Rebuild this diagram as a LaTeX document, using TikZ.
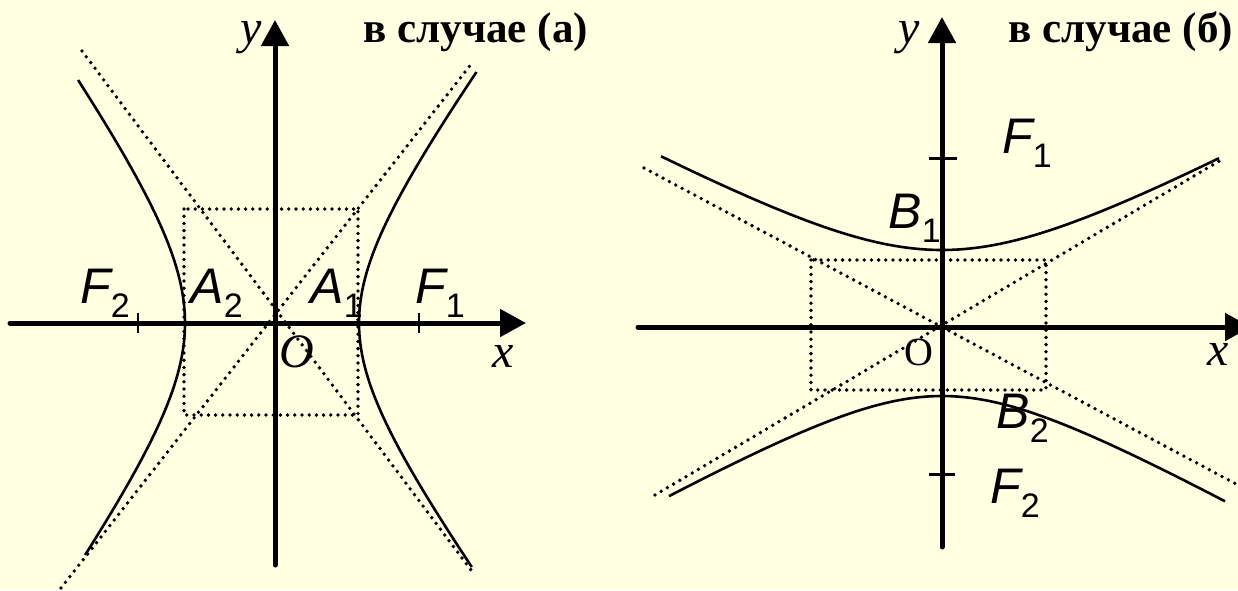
\documentclass[tikz,border=0pt]{standalone}
\usepackage{fontspec}
\setmainfont{Liberation Serif}
\setsansfont{Liberation Sans}
\usetikzlibrary{arrows.meta}
\definecolor{paperyellow}{RGB}{255,255,225}
\newcommand{\flab}[2]{{\fontsize{25}{25}\selectfont\sffamily\itshape #1}{\fontsize{17}{17}\selectfont\sffamily\raisebox{-7pt}{#2}}}
\newcommand{\vlab}[1]{{\fontsize{24}{24}\selectfont\itshape #1}}

\begin{document}
\begin{tikzpicture}[x=0.5pt,y=-0.5pt,>={Triangle[length=13pt,width=13.5pt]},
  lab/.style={anchor=base west,inner sep=0pt},
  axis/.style={->,line width=2.5pt,line cap=round},
  curve/.style={line width=1.3pt},
  asym/.style={line width=1.9pt,dash pattern=on 0pt off 3.6pt,line cap=round},
  tick/.style={line width=1pt}]
  \fill[paperyellow] (0,0) rectangle (1238,590);
  \useasboundingbox (0,0) rectangle (1238,590);
  % case (a)
  \draw[asym] (184,209) rectangle (358,415);
  \draw[asym] (82,51) -- (474,574);
  \draw[asym] (61,588) -- (472,63);
  \draw[curve] plot[domain=-251:244,samples=80] ({272+87*sqrt(1+(\x/118)^2)},{323+\x});
  \draw[curve] plot[domain=-243:232,samples=80] ({272-87*sqrt(1+(\x/122)^2)},{323+\x});
  \draw[axis] (10,323) -- (526,323);
  \draw[axis] (275,565) -- (275,20);
  \draw[tick] (137.5,313) -- (137.5,333);
  \draw[tick] (419,313) -- (419,333);
  \node[lab] (ya) at (240,43) {\vlab{y}};
  \node[lab] (titlea) at (363,42) {\fontsize{21.5}{22}\selectfont\bfseries в случае (а)};
  \node[lab] (F2a) at (80,303) {\flab{F}{2}};
  \node[lab] (A2a) at (190,303) {\flab{A}{2}};
  \node[lab] (A1a) at (310,303) {\flab{A}{1}};
  \node[lab] (F1a) at (415,303) {\flab{F}{1}};
  \node[lab] (Oa) at (279,367) {\vlab{O}};
  \node[lab] (xa) at (492,367) {\vlab{x}};
  % case (b)
  \draw[asym] (811,260) rectangle (1046,390);
  \draw[asym] (644,168) -- (1238,485);
  \draw[asym] (655,495) -- (1221,160);
  \draw[curve] plot[domain=-281:277,samples=80] ({942+\x},{327-77*sqrt(1+(\x/142)^2)});
  \draw[curve] plot[domain=-273:283,samples=80] ({942+\x},{327+69*sqrt(1+(\x/122)^2)});
  \draw[axis] (638,327) -- (1251,327);
  \draw[axis] (942,547) -- (942,17);
  \draw[tick,line width=1.5pt] (929,158) -- (957,158);
  \draw[tick,line width=1.5pt] (929,474) -- (955,474);
  \node[lab] (yb) at (898,43) {\vlab{y}};
  \node[lab] (titleb) at (1008,42) {\fontsize{21.5}{22}\selectfont\bfseries в случае (б)};
  \node[lab] (F1b) at (1002,153) {\flab{F}{1}};
  \node[lab] (B1b) at (888,228) {\flab{B}{1}};
  \node[lab] (B2b) at (996,428) {\flab{B}{2}};
  \node[lab] (F2b) at (990,503) {\flab{F}{2}};
  \node[lab] (Ob) at (904,365) {\fontsize{20}{20}\selectfont O};
  \node[lab] (xb) at (1207,365) {\vlab{x}};
\end{tikzpicture}
\end{document}
